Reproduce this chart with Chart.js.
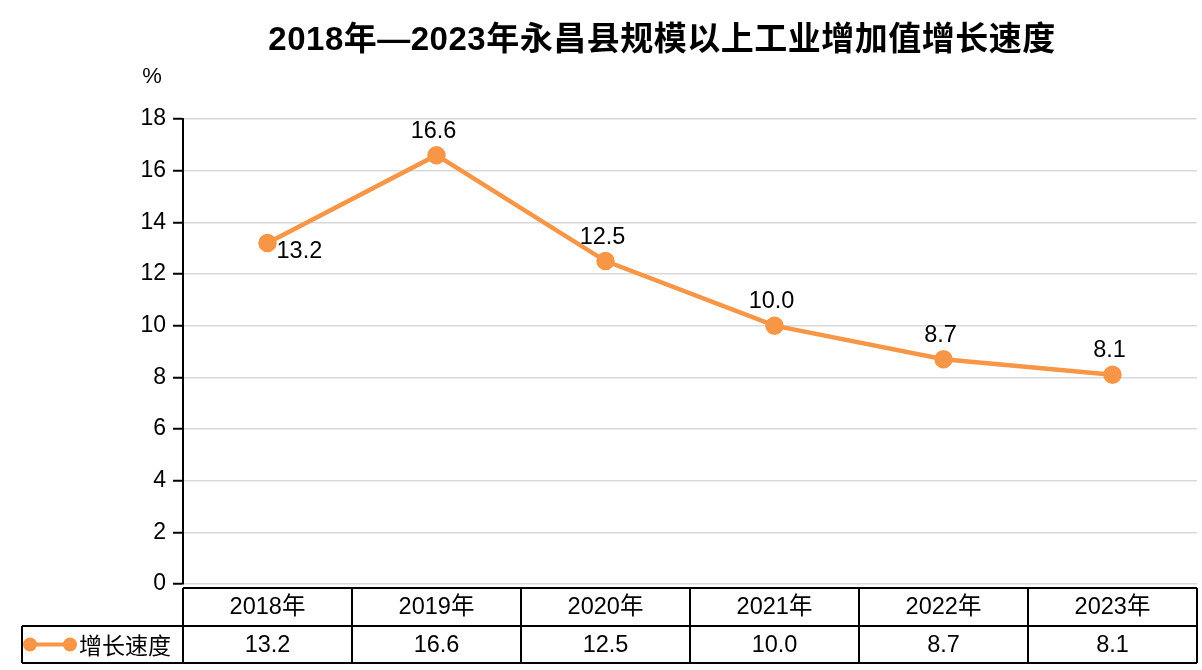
<!DOCTYPE html>
<html><head><meta charset="utf-8">
<script src="https://cdn.jsdelivr.net/npm/chart.js@4/dist/chart.umd.min.js"></script>
<style>html,body{margin:0;padding:0;background:#fff}#wrap{width:1202px;height:670px}</style>
</head><body><div id="wrap"><canvas id="c" width="1202" height="670"></canvas></div>
<script>
const titleText = '2018年—2023年永昌县规模以上工业增加值增长速度';
const unitLabel = '%';
const categories = ['2018年','2019年','2020年','2021年','2022年','2023年'];
const seriesName = '增长速度';
const values = [13.2, 16.6, 12.5, 10.0, 8.7, 8.1];
const yTicks = [0,2,4,6,8,10,12,14,16,18];

const ORANGE = '#F79646';
const FONT = '"Liberation Sans", Arial, "Noto Sans CJK SC", sans-serif';

const overlay = {
  id: 'overlay',
  afterDraw(chart) {
    const ctx = chart.ctx;
    const ca = chart.chartArea;
    const xs = chart.scales.x;
    const meta = chart.getDatasetMeta(0);
    ctx.save();
    // title
    ctx.fillStyle = '#000';
    ctx.font = 'bold 33px ' + FONT;
    try { ctx.letterSpacing = '0.5px'; } catch (e) {}
    ctx.textAlign = 'center'; ctx.textBaseline = 'middle';
    ctx.fillText(titleText, 662, 41);
    try { ctx.letterSpacing = '0px'; } catch (e) {}
    // unit
    ctx.font = '22px ' + FONT;
    ctx.fillText(unitLabel, 152, 77);
    // data labels
    ctx.font = '23.5px ' + FONT;
    meta.data.forEach((pt, i) => {
      const txt = values[i].toFixed(1);
      if (i === 0) {
        ctx.textAlign = 'left'; ctx.textBaseline = 'middle';
        ctx.fillText(txt, pt.x + 9, pt.y + 9);
      } else {
        ctx.textAlign = 'center'; ctx.textBaseline = 'middle';
        ctx.fillText(txt, pt.x - 3, pt.y - 24);
      }
    });
    // data table
    const n = categories.length;
    const w = (ca.right - ca.left) / n;
    const top = ca.bottom + 4, mid = top + 38, bot = mid + 37;
    const leftCell = 22;
    ctx.strokeStyle = '#000'; ctx.lineWidth = 2;
    ctx.beginPath();
    ctx.moveTo(ca.left, top); ctx.lineTo(ca.right, top);
    ctx.moveTo(leftCell, mid); ctx.lineTo(ca.right, mid);
    ctx.moveTo(leftCell, bot); ctx.lineTo(ca.right, bot);
    ctx.moveTo(leftCell, mid); ctx.lineTo(leftCell, bot);
    for (let i = 0; i <= n; i++) {
      const x = ca.left + i * w;
      ctx.moveTo(x, top); ctx.lineTo(x, bot);
    }
    ctx.stroke();
    ctx.fillStyle = '#000';
    ctx.textAlign = 'center'; ctx.textBaseline = 'middle';
    ctx.font = '23.5px ' + FONT;
    for (let i = 0; i < n; i++) {
      const cx = xs.getPixelForValue(i);
      ctx.fillText(categories[i], cx, (top + mid) / 2 + 1);
      ctx.fillText(values[i].toFixed(1), cx, (mid + bot) / 2 + 1);
    }
    // legend marker
    const ly = (mid + bot) / 2;
    ctx.strokeStyle = ORANGE; ctx.lineWidth = 4;
    ctx.beginPath(); ctx.moveTo(30, ly); ctx.lineTo(70, ly); ctx.stroke();
    ctx.fillStyle = ORANGE;
    [30, 70].forEach(x => { ctx.beginPath(); ctx.arc(x, ly, 7, 0, Math.PI * 2); ctx.fill(); });
    ctx.fillStyle = '#000';
    ctx.textAlign = 'left';
    ctx.font = '23px "Noto Sans CJK SC", sans-serif';
    ctx.fillText(seriesName, 79, ly + 1);
    ctx.restore();
  }
};

new Chart(document.getElementById('c'), {
  type: 'line',
  data: {
    labels: categories,
    datasets: [{
      label: seriesName,
      data: values,
      borderColor: ORANGE,
      backgroundColor: ORANGE,
      borderWidth: 4.5,
      pointRadius: 7,
      pointHoverRadius: 7,
      pointBackgroundColor: ORANGE,
      pointBorderColor: ORANGE,
      tension: 0
    }]
  },
  options: {
    responsive: false,
    animation: false,
    devicePixelRatio: 1,
    layout: { autoPadding: false, padding: { left: 0, right: 5, top: 119, bottom: 86 } },
    plugins: { legend: { display: false }, title: { display: false }, tooltip: { enabled: false } },
    scales: {
      x: {
        type: 'category',
        offset: true,
        display: false
      },
      y: {
        min: 0, max: 18,
        afterFit(scale) { scale.width = 183; },
        afterBuildTicks(scale) { scale.ticks = yTicks.map(v => ({ value: v })); },
        ticks: { color: '#000', font: { size: 23, family: FONT }, padding: 7 },
        grid: { color: '#d9d9d9', lineWidth: 1.5, tickColor: '#000', tickLength: 10, tickWidth: 2 },
        border: { color: '#000', width: 2 }
      }
    }
  },
  plugins: [overlay]
});
</script></body></html>
